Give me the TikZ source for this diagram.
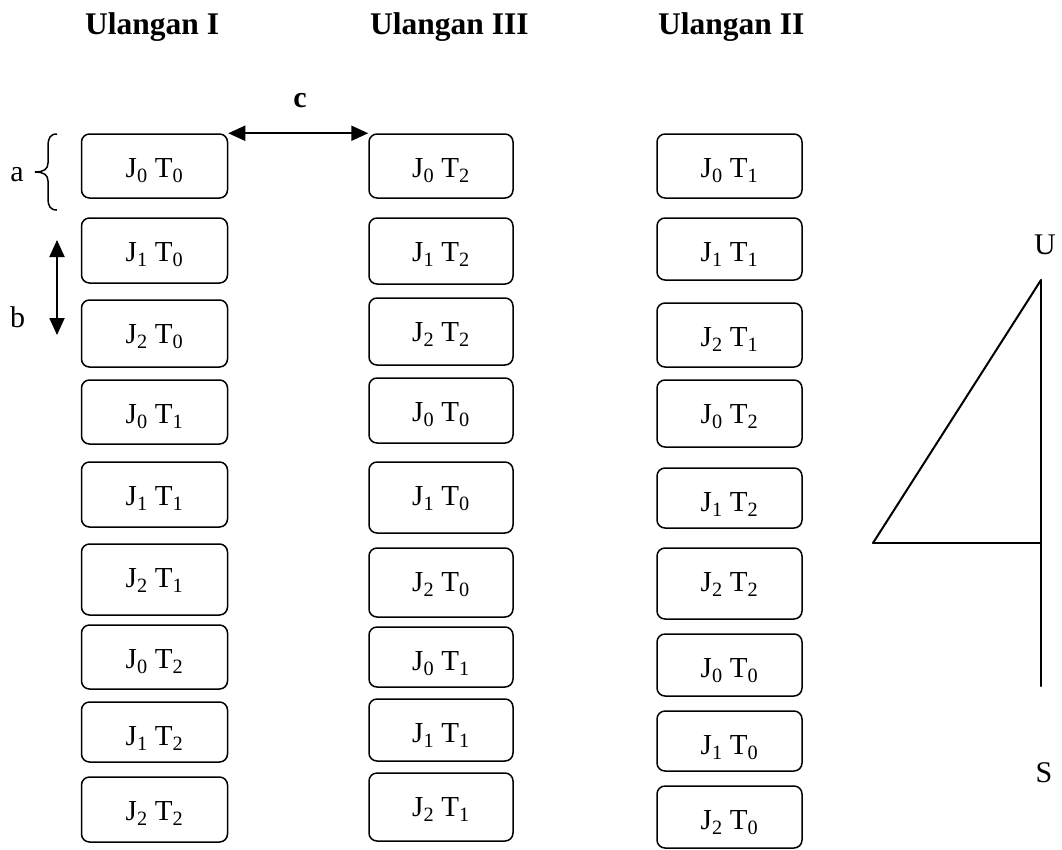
\documentclass[tikz,border=0pt]{standalone}
\usepackage{fontspec}
\setmainfont{Liberation Serif}
\usetikzlibrary{arrows.meta}
\tikzset{
  box/.style={draw, line width=1.5pt, rounded corners=8pt, inner sep=0pt},
  lbl/.style={inner sep=0pt, font=\fontsize{29}{34}\selectfont},
  hdr/.style={inner sep=0pt, anchor=base west, font=\fontsize{31.5}{36}\selectfont\bfseries},
  sym/.style={inner sep=0pt, anchor=base, font=\fontsize{30}{36}\selectfont},
  dbl/.style={line width=2pt, {Triangle[length=17pt,width=15pt]}-{Triangle[length=17pt,width=15pt]}},
  tri/.style={line width=2pt, line cap=round, line join=round},
}
\newcommand{\jt}[2]{J\textsubscript{#1} T\textsubscript{#2}}
\newcommand{\bx}[7]{%
  \node[box, minimum width=#2pt, minimum height={(#4-#3)*1pt}] (#5) at (#1,{(#3+#4)/2}) {};
  \node[lbl, anchor=base] (#5t) at ([yshift=-44pt]#5.north) {\jt{#6}{#7}};
}
\begin{document}
\begin{tikzpicture}[x=1pt, y=-1pt]
\useasboundingbox (0,0) rectangle (1062,849);

% headers
\node[hdr] (h1) at (85,34) {Ulangan I};
\node[hdr] (h3) at (370,34) {Ulangan III};
\node[hdr] (h2) at (658,34) {Ulangan II};

% column 1
\bx{154.5}{146}{134}{198}{a1}{0}{0}
\bx{154.5}{146}{218}{283}{a2}{1}{0}
\bx{154.5}{146}{300}{367}{a3}{2}{0}
\bx{154.5}{146}{380}{444}{a4}{0}{1}
\bx{154.5}{146}{462}{527}{a5}{1}{1}
\bx{154.5}{146}{544}{615}{a6}{2}{1}
\bx{154.5}{146}{625}{689}{a7}{0}{2}
\bx{154.5}{146}{702}{762}{a8}{1}{2}
\bx{154.5}{146}{777}{842}{a9}{2}{2}

% column 2
\bx{441}{144}{134}{198}{b1}{0}{2}
\bx{441}{144}{218}{284}{b2}{1}{2}
\bx{441}{144}{298}{365}{b3}{2}{2}
\bx{441}{144}{378}{443}{b4}{0}{0}
\bx{441}{144}{462}{533}{b5}{1}{0}
\bx{441}{144}{548}{617}{b6}{2}{0}
\bx{441}{144}{627}{687}{b7}{0}{1}
\bx{441}{144}{699}{761}{b8}{1}{1}
\bx{441}{144}{773}{841}{b9}{2}{1}

% column 3
\bx{729.5}{145}{134}{198}{c1}{0}{1}
\bx{729.5}{145}{218}{280}{c2}{1}{1}
\bx{729.5}{145}{303}{367}{c3}{2}{1}
\bx{729.5}{145}{380}{447}{c4}{0}{2}
\bx{729.5}{145}{468}{528}{c5}{1}{2}
\bx{729.5}{145}{548}{619}{c6}{2}{2}
\bx{729.5}{145}{634}{696}{c7}{0}{0}
\bx{729.5}{145}{711}{771}{c8}{1}{0}
\bx{729.5}{145}{786}{848}{c9}{2}{0}

% c arrow
\draw[dbl] (a1.north east) -- (b1.north west);
\node[sym, font=\fontsize{30}{36}\selectfont\bfseries] (lc) at (300,107) {c};

% a brace
\draw[line width=1.5pt] (57,134) .. controls (50,134) and (48,138) .. (48,147)
  -- (48,163) .. controls (48,169) and (44,172) .. (35,172)
  .. controls (44,172) and (48,175) .. (48,181)
  -- (48,198) .. controls (48,206) and (50,210) .. (57,210);
\node[sym] (la) at (17,181) {a};

% b arrow
\coordinate (bt) at (57,240);
\coordinate (bb) at (57,335);
\draw[dbl] (bt) -- (bb);
\node[sym] (lb) at (17.5,327) {b};

% triangle
\coordinate (tt) at (1041,280);
\coordinate (tm) at (1041,543);
\coordinate (tl) at (873,543);
\coordinate (tb) at (1041,686);
\draw[tri] (tt) -- (tb);
\draw[tri] (tl) -- (tm);
\draw[tri] (tl) -- (tt);
\node[sym] (lu) at (1045,254) {U};
\node[sym] (ls) at (1044,782) {S};
\end{tikzpicture}
\end{document}
